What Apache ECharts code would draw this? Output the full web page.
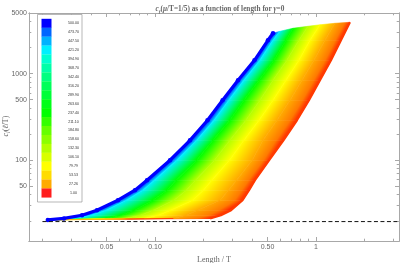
<!DOCTYPE html>
<html><head><meta charset="utf-8">
<script src="https://cdn.jsdelivr.net/npm/echarts@6/dist/echarts.min.js"></script>
<style>html,body{margin:0;padding:0;background:#fff}#c{width:402px;height:263px}</style>
</head><body><div id="c"></div>
<script>
// ---- data ----
// shared c_f(l/T) levels at which the curve lengths were read
const CF_LEVELS = [21.3, 23.2, 26.5, 34.6, 45.1, 58.8, 100, 170, 289, 492, 837, 1423, 2422];
// common starting point of every curve (length/T, c_f)
const START_POINT = [0.0216, 20.5];
// length/T of each curve at the levels above, and the end point of each curve
const LEN_P500 = [0.0272, 0.0352, 0.0436, 0.0589, 0.0751, 0.0892, 0.124, 0.165, 0.212, 0.263, 0.328, 0.415, 0.503];
const END_P500 = [0.541, 2916];
const LEN_P421 = [0.0315, 0.0404, 0.0499, 0.0667, 0.0842, 0.0994, 0.1368, 0.182, 0.233, 0.288, 0.357, 0.449, 0.541];
const END_P421 = [0.598, 3075];
const LEN_P237 = [0.0488, 0.0614, 0.0746, 0.0970, 0.1185, 0.1354, 0.1816, 0.229, 0.292, 0.357, 0.443, 0.548, 0.651];
const END_P237 = [0.720, 3331];
const LEN_P132 = [0.0654, 0.0812, 0.0976, 0.1312, 0.1565, 0.1787, 0.2342, 0.292, 0.367, 0.449, 0.541, 0.660, 0.784];
const END_P132 = [0.892, 3513];
const LEN_P80 = [0.0858, 0.1051, 0.1252, 0.1715, 0.1998, 0.2254, 0.2899, 0.357, 0.443, 0.541, 0.651, 0.784, 0.918];
const END_P80 = [1.059, 3655];
const LEN_P27 = [0.1303, 0.1564, 0.1837, 0.2537, 0.2861, 0.3212, 0.4015, 0.469, 0.573, 0.690, 0.819, 0.972, 1.137];
const END_P27 = [1.312, 3804];
const LEN_P1 = [0.220, 0.257, 0.297, 0.350, 0.384, 0.418, 0.511, 0.628, 0.762, 0.905, 1.059, 1.240, 1.430];
const END_P1 = [1.626, 3906];
const P_VALUES = [500, 421.2, 237.4, 132.3, 79.79, 27.26, 1.00];

const ASYMPTOTE = 19.6;
const ASYMPTOTE_RANGE = [0.02, 3.2];

const LEGEND_LABELS = ['500.00','473.70','447.50','421.20','394.90','368.70','342.40','316.20','289.90','263.60','237.40','211.10','184.80','158.60','132.30','106.10','79.79','53.53','27.26','1.00'];

const X_TICKS = [0.05, 0.1, 0.5, 1];
const X_TICK_LABELS = ['0.05', '0.10', '0.50', '1'];
const X_MINOR = [0.02,0.03,0.04,0.06,0.07,0.08,0.09,0.2,0.3,0.4,0.6,0.7,0.8,0.9,2,3];
const Y_TICKS = [50, 100, 500, 1000, 5000];
const Y_TICK_LABELS = ['50', '100', '500', '1000', '5000'];
const Y_MINOR = [20,30,40,60,70,80,90,200,300,400,600,700,800,900,2000,3000,4000];

// ---- styling ----
const CURVE_COLORS = ['#0000ff','#00eeff','#00ff00','#b4ff00','#ffff00','#ffaa00','#ff2a00'];
// extra colour stop in the middle of each band (null = plain two-colour blend)
const BAND_MID = [null, null, null, null, null, {offset: 0.65, color: '#ff7a00'}];
const LEGEND_COLORS = ['#0000ff','#0066ff','#00b2ff','#00f0ff','#00ffd0','#00ffa8','#00ff80','#00ff5a','#00ff38','#00ff18','#00ff00','#33ff00','#66ff00','#8cff00','#b4ff00','#d8ff00','#ffff00','#ffdc00','#ffaa00','#ff1e1e'];
const FRAME = '#a8a8a8';
const LABEL = '#666';
const X_MIN = 0.0165, X_MAX = 3.28, Y_MIN = 11.7, Y_MAX = 5000;

const CURVES = [
  {p: P_VALUES[0], xs: LEN_P500, end: END_P500},
  {p: P_VALUES[1], xs: LEN_P421, end: END_P421},
  {p: P_VALUES[2], xs: LEN_P237, end: END_P237},
  {p: P_VALUES[3], xs: LEN_P132, end: END_P132},
  {p: P_VALUES[4], xs: LEN_P80, end: END_P80},
  {p: P_VALUES[5], xs: LEN_P27, end: END_P27},
  {p: P_VALUES[6], xs: LEN_P1, end: END_P1}
];
const curvePts = CURVES.map(c => [START_POINT].concat(c.xs.map((x, i) => [x, CF_LEVELS[i]]), [c.end]));

function fmt(ticks, labels) {
  return function (v) {
    for (let i = 0; i < ticks.length; i++) {
      const lt = Math.log10(ticks[i]);
      if (Math.abs(Math.log10(v) - lt) < 0.005 || Math.abs(v - lt) < 0.0005) return labels[i];
    }
    return '';
  };
}

function xAx(pos, ticks, len, labels) {
  return {
    type: 'log', logBase: 10, min: X_MIN, max: X_MAX, position: pos,
    axisLine: {show: true, lineStyle: {color: FRAME, width: 1}},
    axisTick: {show: true, inside: true, length: len, customValues: ticks, lineStyle: {color: FRAME, width: 1}},
    axisLabel: labels ? {show: true, customValues: ticks, formatter: fmt(ticks, labels), margin: 3, fontSize: 7, color: LABEL, fontFamily: 'Liberation Sans'} : {show: false},
    splitLine: {show: false}, minorTick: {show: false},
    name: (labels && pos === 'bottom') ? '{n|Length / T}' : '',
    nameLocation: 'middle', nameGap: 11,
    nameTextStyle: {rich: {n: {fontFamily: 'Liberation Serif', fontSize: 8, color: LABEL}}}
  };
}
function yAx(pos, ticks, len, labels) {
  return {
    type: 'log', logBase: 10, min: Y_MIN, max: Y_MAX, position: pos,
    axisLine: {show: true, lineStyle: {color: FRAME, width: 1}},
    axisTick: {show: true, inside: true, length: len, customValues: ticks, lineStyle: {color: FRAME, width: 1}},
    axisLabel: labels ? {show: true, customValues: ticks, formatter: fmt(ticks, labels), margin: 2, fontSize: 7, color: LABEL, fontFamily: 'Liberation Sans'} : {show: false},
    splitLine: {show: false}, minorTick: {show: false}
  };
}

const legendEls = [{type: 'rect', shape: {x: 37.5, y: 14.5, width: 44.5, height: 187.5}, style: {fill: '#fff', stroke: '#9a9a9a', lineWidth: 0.7}, z: 100}];
LEGEND_LABELS.forEach((lab, i) => {
  legendEls.push({type: 'rect', shape: {x: 41.5, y: 18.8 + i * 8.93, width: 10, height: 9.1}, style: {fill: LEGEND_COLORS[i]}, z: 101});
  legendEls.push({type: 'text', x: 73.5, y: 23.3 + i * 8.93, style: {text: lab, fontSize: 3.6, fill: '#333', align: 'center', verticalAlign: 'middle', fontFamily: 'Liberation Sans'}, z: 101});
});
legendEls.push({type: 'text', x: 5.5, y: 126, rotation: Math.PI / 2, z: 101,
  style: {text: '{ci|c}{sub|f}{n|(}{ci|ℓ}{n|/T)}', align: 'center', verticalAlign: 'middle',
    rich: {ci: {fontFamily: 'Liberation Serif', fontStyle: 'italic', fontSize: 8, fill: LABEL},
           n: {fontFamily: 'Liberation Serif', fontSize: 8, fill: LABEL},
           sub: {fontFamily: 'Liberation Serif', fontStyle: 'italic', fontSize: 5.5, fill: LABEL, padding: [4, 0, 0, 0]}}}});

const chart = echarts.init(document.getElementById('c'), null, {renderer: 'canvas', width: 402, height: 263});
chart.setOption({
  animation: false,
  backgroundColor: '#fff',
  title: {
    text: '{ci|c}{sub|f}{n|(}{ci|μ}{n|/T=1/5) as a function of length for }{ci|γ}{n|=0}',
    left: 215, top: 0, textAlign: 'center',
    textStyle: {rich: {
      ci: {fontFamily: 'Liberation Serif', fontStyle: 'italic', fontSize: 7.3, color: LABEL},
      n: {fontFamily: 'Liberation Serif', fontSize: 7.3, color: LABEL},
      sub: {fontFamily: 'Liberation Serif', fontStyle: 'italic', fontSize: 5, color: LABEL, padding: [4, 0, 0, 0]}
    }}
  },
  grid: {left: 29, right: 3, top: 13, bottom: 22, outerBoundsMode: 'none', containLabel: false},
  xAxis: [xAx('bottom', X_TICKS, 4, X_TICK_LABELS), xAx('bottom', X_MINOR, 2.3, null), xAx('top', X_TICKS, 4, null), xAx('top', X_MINOR, 2.3, null)],
  yAxis: [yAx('left', Y_TICKS, 4, Y_TICK_LABELS), yAx('left', Y_MINOR, 2.3, null), yAx('right', Y_TICKS, 4, null), yAx('right', Y_MINOR, 2.3, null)],
  graphic: legendEls,
  series: [
    {
      type: 'custom', xAxisIndex: 0, yAxisIndex: 0, z: 1,
      data: [[0.1, 100]], encode: {x: 0, y: 1},
      renderItem: function (params, api) {
        const children = [];
        const pix = curvePts.map(pts => pts.map(p => api.coord(p)));
        for (let c = 0; c < pix.length - 1; c++) {
          const A = pix[c], B = pix[c + 1];
          const stops = [{offset: 0, color: CURVE_COLORS[c]}];
          if (BAND_MID[c]) stops.push(BAND_MID[c]);
          stops.push({offset: 1, color: CURVE_COLORS[c + 1]});
          for (let j = 0; j < A.length - 1; j++) {
            const poly = [A[j], A[j + 1], B[j + 1], B[j]];
            const x1 = (A[j][0] + A[j + 1][0]) / 2, y1 = (A[j][1] + A[j + 1][1]) / 2;
            const mx = (B[j][0] + B[j + 1][0]) / 2, my = (B[j][1] + B[j + 1][1]) / 2;
            const tx = (A[j + 1][0] - A[j][0]) + (B[j + 1][0] - B[j][0]);
            const ty = (A[j + 1][1] - A[j][1]) + (B[j + 1][1] - B[j][1]);
            const tl = Math.hypot(tx, ty) || 1;
            const nx = -ty / tl, ny = tx / tl;
            let d = (mx - x1) * nx + (my - y1) * ny;
            let x2 = x1 + d * nx, y2 = y1 + d * ny;
            if (Math.abs(d) < 0.4) { x2 = mx; y2 = my; }
            if (Math.hypot(x2 - x1, y2 - y1) < 0.4) { x2 = x1 + 0.4; }
            const grad = {type: 'linear', x: x1, y: y1, x2: x2, y2: y2, global: true, colorStops: stops};
            children.push({type: 'polygon', shape: {points: poly}, style: {fill: grad, stroke: grad, lineWidth: 0.6}});
          }
        }
        return {type: 'group', children: children};
      }
    },
    {
      type: 'line', name: 'p=1', z: 2, data: curvePts[6].slice(1), symbol: 'none', silent: true,
      lineStyle: {color: '#ff3a00', width: 2.2}
    },
    {
      type: 'line', name: 'p=500', z: 3, data: curvePts[0], symbol: 'circle', symbolSize: 4.5, silent: true,
      itemStyle: {color: '#0000ff'}, lineStyle: {color: '#0000ff', width: 3.2}
    },
    {
      type: 'line', name: 'asymptote', z: 4, symbol: 'none', silent: true,
      data: [[ASYMPTOTE_RANGE[0], ASYMPTOTE], [ASYMPTOTE_RANGE[1], ASYMPTOTE]],
      lineStyle: {color: '#111', width: 1, type: [4, 2.5]}
    }
  ]
});
</script>
</body></html>
